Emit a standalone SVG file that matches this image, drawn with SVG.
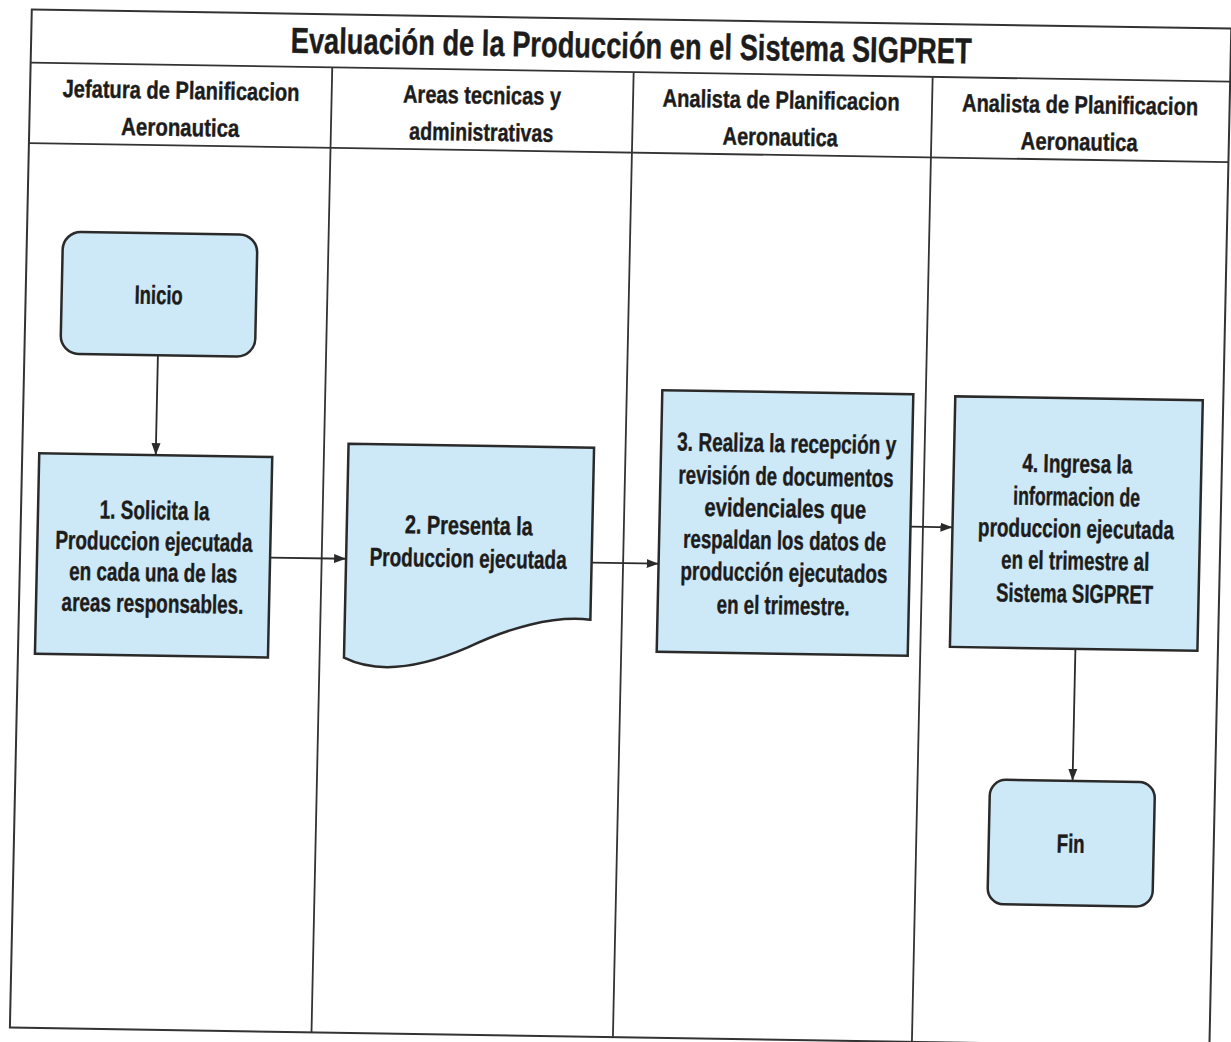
<svg xmlns="http://www.w3.org/2000/svg" width="1231" height="1042" viewBox="0 0 1231 1042">
<style>
.frame{fill:none;stroke:#333;stroke-width:2}
.ln{stroke:#333;stroke-width:1.8;fill:none}
.node{fill:#CDE8F7;stroke:#2a2a2a;stroke-width:2.5}
.conn{stroke:#2a2a2a;stroke-width:1.8;fill:none;marker-end:url(#ah)}
text{font-family:"Liberation Sans Narrow","Liberation Sans",Arial,sans-serif;font-weight:bold;fill:#1c1c1c;stroke:#1c1c1c;stroke-width:0.4;text-anchor:middle}
.t{font-size:36px}
.h{font-size:25px}
.n{font-size:26px}
</style>
<defs>
<marker id="ah" markerUnits="userSpaceOnUse" markerWidth="12" markerHeight="10" refX="12" refY="5" orient="auto">
<path d="M0,0.5 L12,5 L0,9.5 z" fill="#2a2a2a"/>
</marker>
</defs>
<rect width="1231" height="1042" fill="#fff"/>
<g transform="matrix(1,0.0159,-0.0215,1,11.2,-9.78)">
<g id="frame">
<rect class="frame" x="21" y="19" width="1199.5" height="1018"/>
<line class="ln" x1="21" y1="72" x2="1220.5" y2="72"/>
<line class="ln" x1="21" y1="152.5" x2="1220.5" y2="152.5"/>
<line class="ln" x1="322.6" y1="72" x2="322.6" y2="1037"/>
<line class="ln" x1="624" y1="72" x2="624" y2="1037"/>
<line class="ln" x1="923" y1="72" x2="923" y2="1037"/>
<text class="t" x="621" y="58" textLength="681" lengthAdjust="spacingAndGlyphs">Evaluación de la Producción en el Sistema SIGPRET</text>
</g>
<g id="lane-headers">
<text class="h" x="172" y="106" textLength="237" lengthAdjust="spacingAndGlyphs">Jefatura de Planificacion</text>
<text class="h" x="172" y="143" textLength="118" lengthAdjust="spacingAndGlyphs">Aeronautica</text>
<text class="h" x="473" y="106" textLength="158" lengthAdjust="spacingAndGlyphs">Areas tecnicas y</text>
<text class="h" x="473" y="143" textLength="144" lengthAdjust="spacingAndGlyphs">administrativas</text>
<text class="h" x="772" y="106" textLength="237" lengthAdjust="spacingAndGlyphs">Analista de Planificacion</text>
<text class="h" x="772" y="143" textLength="115" lengthAdjust="spacingAndGlyphs">Aeronautica</text>
<text class="h" x="1071" y="106" textLength="236" lengthAdjust="spacingAndGlyphs">Analista de Planificacion</text>
<text class="h" x="1071" y="143" textLength="117" lengthAdjust="spacingAndGlyphs">Aeronautica</text>
</g>
<g id="connectors">
<path class="conn" d="M154.5,362.5 V462.5"/>
<path class="conn" d="M271,563 H347"/>
<path class="conn" d="M592.5,563 H659.5"/>
<path class="conn" d="M910.5,522 H952.5"/>
<path class="conn" d="M1078,641.5 V773.5"/>
</g>
<g id="inicio">
<rect class="node" x="57" y="240.5" width="194.5" height="122" rx="18"/>
<text class="n" x="154" y="311.3" textLength="48" lengthAdjust="spacingAndGlyphs">Inicio</text>
</g>
<g id="paso1">
<rect class="node" x="38" y="462.5" width="233" height="200.5"/>
<text class="n" x="154.5" y="526.6" textLength="110" lengthAdjust="spacingAndGlyphs">1. Solicita la</text>
<text class="n" x="154.5" y="557.6" textLength="197" lengthAdjust="spacingAndGlyphs">Produccion ejecutada</text>
<text class="n" x="154.5" y="588.6" textLength="168" lengthAdjust="spacingAndGlyphs">en cada una de las</text>
<text class="n" x="154.5" y="619.6" textLength="182" lengthAdjust="spacingAndGlyphs">areas responsables.</text>
</g>
<g id="paso2">
<path class="node" d="M347,448 L592.5,448 L592.5,620 C555,616 510,630 470,650 C430,668 385,680 347,662 Z"/>
<text class="n" x="469" y="536.7" textLength="128" lengthAdjust="spacingAndGlyphs">2. Presenta la</text>
<text class="n" x="469" y="569.7" textLength="197" lengthAdjust="spacingAndGlyphs">Produccion ejecutada</text>
</g>
<g id="paso3">
<rect class="node" x="659.5" y="389.5" width="251" height="261.5"/>
<text class="n" x="785" y="449.6" textLength="219" lengthAdjust="spacingAndGlyphs">3. Realiza la recepción y</text>
<text class="n" x="785" y="482.6" textLength="215" lengthAdjust="spacingAndGlyphs">revisión de documentos</text>
<text class="n" x="785" y="514.6" textLength="162" lengthAdjust="spacingAndGlyphs">evidenciales que</text>
<text class="n" x="785" y="546.6" textLength="203" lengthAdjust="spacingAndGlyphs">respaldan los datos de</text>
<text class="n" x="785" y="578.6" textLength="207" lengthAdjust="spacingAndGlyphs">producción ejecutados</text>
<text class="n" x="785" y="611.6" textLength="133" lengthAdjust="spacingAndGlyphs">en el trimestre.</text>
</g>
<g id="paso4">
<rect class="node" x="952.5" y="391" width="247.5" height="250.5"/>
<text class="n" x="1076" y="465.3" textLength="110" lengthAdjust="spacingAndGlyphs">4. Ingresa la</text>
<text class="n" x="1076" y="498.3" textLength="127" lengthAdjust="spacingAndGlyphs">informacion de</text>
<text class="n" x="1076" y="530.3" textLength="196" lengthAdjust="spacingAndGlyphs">produccion ejecutada</text>
<text class="n" x="1076" y="562.3" textLength="148" lengthAdjust="spacingAndGlyphs">en el trimestre al</text>
<text class="n" x="1076" y="595.3" textLength="157" lengthAdjust="spacingAndGlyphs">Sistema SIGPRET</text>
</g>
<g id="fin">
<rect class="node" x="995.5" y="773.5" width="165" height="124.5" rx="16"/>
<text class="n" x="1077.5" y="845.3" textLength="28" lengthAdjust="spacingAndGlyphs">Fin</text>
</g>
</g>
</svg>
